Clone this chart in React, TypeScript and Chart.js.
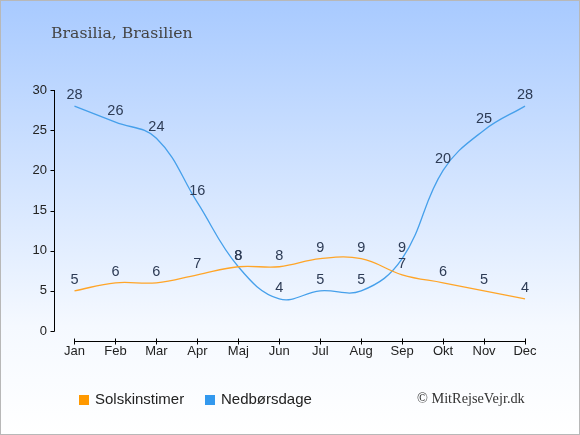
import { useEffect, useRef } from "react";
import { Chart, registerables } from "chart.js";

Chart.register(...registerables);

const months = ["Jan", "Feb", "Mar", "Apr", "Maj", "Jun", "Jul", "Aug", "Sep", "Okt", "Nov", "Dec"];
const sunHours = [5, 6, 6, 7, 8, 8, 9, 9, 7, 6, 5, 4];
const rainDays = [28, 26, 24, 16, 8, 4, 5, 5, 9, 20, 25, 28];
const yTicks = [0, 5, 10, 15, 20, 25, 30];
const seriesNames = ["Solskinstimer", "Nedbørsdage"];
const title = "Brasilia, Brasilien";
const credit = "© MitRejseVejr.dk";

const orange = "#ff9900";
const blue = "#3399ee";
const orangeLine = "rgb(255,165,40)";
const blueLine = "rgb(70,160,235)";
const labelColor = "#2d3b55";
const sans = "'Liberation Sans', Arial, sans-serif";
const serif = "'DejaVu Serif', serif";

const backgroundPlugin = {
    id: "bg",
    beforeDraw(chart: Chart) {
        const { ctx, width, height } = chart;
        ctx.save();
        const g = ctx.createLinearGradient(0, 0, 0, height);
        g.addColorStop(0, "rgb(168,202,255)");
        g.addColorStop(0.75, "rgb(245,249,255)");
        g.addColorStop(1, "#ffffff");
        ctx.fillStyle = g;
        ctx.fillRect(0, 0, width, height);
        ctx.strokeStyle = "#b8b8b8";
        ctx.lineWidth = 2;
        ctx.strokeRect(0, 0, width, height);
        ctx.restore();
    },
};

const axesPlugin = {
    id: "axes",
    beforeDatasetsDraw(chart: Chart) {
        const { ctx } = chart;
        const x = chart.scales.x;
        const y = chart.scales.y;
        const ax = Math.round(chart.chartArea.left) + 0.5;
        const top = y.getPixelForValue(yTicks[yTicks.length - 1]);
        const bottom = y.getPixelForValue(yTicks[0]);
        ctx.save();
        ctx.strokeStyle = "#000";
        ctx.lineWidth = 1;
        ctx.beginPath();
        ctx.moveTo(ax, Math.round(top));
        ctx.lineTo(ax, Math.round(bottom) + 0.5);
        yTicks.forEach(v => {
            const py = Math.round(y.getPixelForValue(v)) + 0.5;
            ctx.moveTo(ax - 4, py);
            ctx.lineTo(ax, py);
        });
        const ay = Math.round(bottom) + 10.5;
        const first = x.getPixelForValue(0);
        const last = x.getPixelForValue(months.length - 1);
        ctx.moveTo(Math.round(first), ay);
        ctx.lineTo(Math.round(last) + 1, ay);
        months.forEach((_, i) => {
            const px = Math.round(x.getPixelForValue(i)) + 0.5;
            ctx.moveTo(px, ay - 3);
            ctx.lineTo(px, ay + 3);
        });
        ctx.stroke();
        ctx.restore();
    },
};

const valueLabelsPlugin = {
    id: "valueLabels",
    afterDatasetsDraw(chart: Chart) {
        const { ctx } = chart;
        ctx.save();
        ctx.font = `14.5px ${sans}`;
        ctx.fillStyle = labelColor;
        ctx.textAlign = "center";
        ctx.textBaseline = "alphabetic";
        chart.data.datasets.forEach((ds, di) => {
            const meta = chart.getDatasetMeta(di);
            meta.data.forEach((pt, i) => {
                ctx.fillText(String(ds.data[i]), pt.x, pt.y - 7);
            });
        });
        ctx.restore();
    },
};

const decorPlugin = {
    id: "decor",
    afterDraw(chart: Chart) {
        const { ctx } = chart;
        ctx.save();
        ctx.textBaseline = "alphabetic";
        ctx.textAlign = "left";
        ctx.fillStyle = "#444";
        ctx.font = `15.7px ${serif}`;
        ctx.fillText(title, 51, 38);

        const colors = [orange, blue];
        const starts = [79, 205];
        ctx.font = `15px ${sans}`;
        seriesNames.forEach((name, i) => {
            ctx.fillStyle = colors[i];
            ctx.fillRect(starts[i], 395, 10, 10);
            ctx.fillStyle = "#222";
            ctx.fillText(name, starts[i] + 16, 403.5);
        });

        ctx.fillStyle = "#333";
        ctx.font = `14.3px 'Liberation Serif', serif`;
        ctx.fillText(credit, 417, 402.7);
        ctx.restore();
    },
};

export default function App() {
    const ref = useRef<HTMLCanvasElement | null>(null);

    useEffect(() => {
        if (!ref.current) return;
        const chart = new Chart(ref.current, {
            type: "line",
            data: {
                labels: months,
                datasets: [
                    {
                        label: seriesNames[0],
                        data: sunHours,
                        borderColor: orangeLine,
                        borderWidth: 1.3,
                        pointRadius: 0,
                        tension: 0.4,
                        fill: false,
                    },
                    {
                        label: seriesNames[1],
                        data: rainDays,
                        borderColor: blueLine,
                        borderWidth: 1.3,
                        pointRadius: 0,
                        tension: 0.4,
                        fill: false,
                    },
                ],
            },
            options: {
                responsive: false,
                animation: false,
                layout: { padding: { top: 90, bottom: 64, left: 0, right: 34.5 } },
                plugins: {
                    legend: { display: false },
                    title: { display: false },
                    tooltip: { enabled: false },
                },
                scales: {
                    x: {
                        offset: true,
                        grid: { display: false, drawTicks: false },
                        border: { display: false },
                        ticks: { color: "#222", font: { family: sans, size: 13 }, padding: 13, maxRotation: 0 },
                        afterFit: s => { s.height = 40; },
                    },
                    y: {
                        min: 0,
                        max: 30,
                        grid: { display: false, drawTicks: false },
                        border: { display: false },
                        ticks: { stepSize: 5, color: "#222", font: { family: sans, size: 13 }, padding: 7 },
                        afterFit: s => { s.width = 54; },
                    },
                },
            },
            plugins: [backgroundPlugin, axesPlugin, valueLabelsPlugin, decorPlugin],
        });
        return () => {
            chart.destroy();
        };
    }, []);

    return (
        <div style={{ position: "absolute", left: 0, top: 0 }}>
            <canvas ref={ref} width={580} height={435} />
        </div>
    );
}
